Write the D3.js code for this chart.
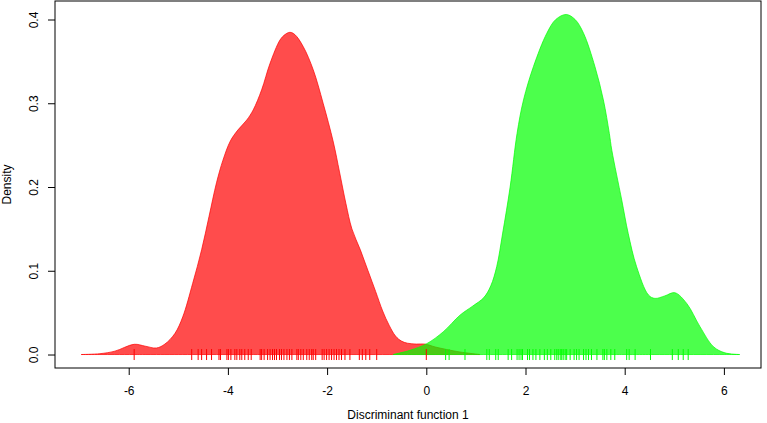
<!DOCTYPE html>
<html>
<head>
<meta charset="utf-8">
<script src="https://cdn.jsdelivr.net/npm/d3@7"></script>
<style>
  body { margin: 0; background: #fff; }
  text { font-family: "Liberation Sans", Arial, Helvetica, sans-serif; }
</style>
</head>
<body>
<div class="container"></div>
<script>
/* Density curve of group 1 (red) */
const redX = [-6.96, -6.58, -6.28, -5.89, -5.67, -5.44, -5.27, -5.07, -4.91, -4.71, -4.53, -4.38, -4.23, -4.10,
              -3.95, -3.80, -3.62, -3.49, -3.32, -3.15, -2.95, -2.85, -2.75, -2.65, -2.48, -2.28, -2.08, -1.875,
              -1.75, -1.62, -1.50, -1.33, -1.175, -1.02, -0.88, -0.75, -0.62, -0.50, -0.38, -0.20, -0.03, 0.18,
              0.41, 0.68, 1.08];
const redY = [0, 0.001, 0.004, 0.0122, 0.010, 0.0078, 0.0125, 0.025, 0.045, 0.085, 0.125, 0.165, 0.205, 0.232,
              0.255, 0.268, 0.28, 0.292, 0.316, 0.3477, 0.3755, 0.382, 0.3847, 0.382, 0.3675, 0.34, 0.30, 0.2537,
              0.218, 0.18, 0.15, 0.125, 0.10, 0.075, 0.052, 0.035, 0.022, 0.016, 0.0135, 0.0125, 0.0125, 0.009,
              0.006, 0.003, 0];

/* Density curve of group 2 (green) */
const greenX = [-0.67, -0.33, 0.01, 0.34, 0.68, 0.94, 1.16, 1.30, 1.42, 1.54, 1.69, 1.83, 1.96, 2.16, 2.43,
                2.61, 2.82, 3.00, 3.17, 3.40, 3.57, 3.69, 3.74, 3.94, 4.07, 4.24, 4.48, 4.61, 4.81, 5.01,
                5.25, 5.52, 5.79, 6.02, 6.32];
const greenY = [0, 0.005, 0.013, 0.027, 0.047, 0.058, 0.068, 0.082, 0.105, 0.145, 0.20, 0.264, 0.304, 0.3437, 0.3836,
                0.400, 0.406, 0.400, 0.3836, 0.3437, 0.304, 0.264, 0.244, 0.1845, 0.1447, 0.1048, 0.071, 0.067, 0.070, 0.0738,
                0.061, 0.033, 0.0093, 0.002, 0];

/* Individual scores (rug) */
const redRug = [-5.89, -4.73, -4.60, -4.53, -4.43, -4.33, -4.18, -4.15, -4.02, -3.99, -3.94, -3.86, -3.82, -3.76,
                -3.72, -3.66, -3.59, -3.53, -3.35, -3.32, -3.27, -3.20, -3.15, -3.10, -3.06, -3.02, -2.96, -2.92,
                -2.87, -2.81, -2.76, -2.71, -2.61, -2.58, -2.53, -2.48, -2.41, -2.36, -2.31, -2.28, -2.23, -2.10,
                -2.06, -2.01, -1.96, -1.91, -1.86, -1.81, -1.76, -1.71, -1.64, -1.54, -1.35, -1.29, -1.22, -1.14,
                -1.00, 0.00];
const greenRug = [0.39, 0.46, 0.78, 1.22, 1.27, 1.40, 1.45, 1.65, 1.72, 1.83, 1.87, 1.91, 1.94, 2.04, 2.08, 2.15,
                  2.21, 2.29, 2.38, 2.44, 2.51, 2.59, 2.63, 2.66, 2.70, 2.73, 2.76, 2.80, 2.83, 2.90, 2.98, 3.03,
                  3.08, 3.17, 3.22, 3.27, 3.33, 3.44, 3.56, 3.59, 3.64, 3.72, 3.80, 4.04, 4.09, 4.21, 4.52, 4.96,
                  5.08, 5.18, 5.28];

const xTicks = [-6, -4, -2, 0, 2, 4, 6];
const yTicks = [0, 0.1, 0.2, 0.3, 0.4];

const w = 767;
const h = 423;

/* Plot region (box) */
const boxL = 55, boxR = 761, boxT = 1, boxB = 368;

const xScale = d3.scaleLinear()
                 .domain([-7.486, 6.748])
                 .range([boxL, boxR]);
const yScale = d3.scaleLinear()
                 .domain([-0.0161, 0.4221])
                 .range([boxB, boxT]);

const svg = d3.select(".container")
              .append("svg")
              .attr("width", w)
              .attr("height", h);

const area = d3.area()
               .x((d) => xScale(d[0]))
               .y0(yScale(0))
               .y1((d) => yScale(d[1]))
               .curve(d3.curveCatmullRom.alpha(0.5));

const groups = [
    { xs: redX, ys: redY, rug: redRug, col: "rgba(255,0,0,0.7)", rugCol: "#ff0000" },
    { xs: greenX, ys: greenY, rug: greenRug, col: "rgba(0,255,0,0.7)", rugCol: "#00ff00" }
];

/* Density polygons */
groups.forEach((g) => {
    svg.append("path")
       .datum(g.xs.map((x, i) => [x, g.ys[i]]))
       .attr("d", (d) => area(d) + "Z")
       .attr("fill", g.col)
       .attr("stroke", g.col)
       .attr("stroke-width", 1);
});

/* Rugs drawn on top */
groups.forEach((g) => {
    svg.selectAll(null)
       .data(g.rug)
       .enter()
       .append("line")
       .attr("x1", (d) => xScale(d))
       .attr("x2", (d) => xScale(d))
       .attr("y1", yScale(0) - 5.5)
       .attr("y2", yScale(0) + 5.5)
       .attr("stroke", g.rugCol)
       .attr("stroke-width", 1);
});

/* Box */
svg.append("rect")
   .attr("x", boxL)
   .attr("y", boxT)
   .attr("width", boxR - boxL)
   .attr("height", boxB - boxT)
   .attr("fill", "none")
   .attr("stroke", "#000")
   .attr("stroke-width", 1);

/* Axes */
const xAxis = d3.axisBottom(xScale).tickValues(xTicks).tickSize(7).tickPadding(11)
                .tickFormat((d) => (d < 0 ? "-" : "") + Math.abs(d));
const yAxis = d3.axisLeft(yScale).tickValues(yTicks).tickSize(7).tickPadding(6)
                .tickFormat(d3.format(".1f"));

const gx = svg.append("g")
              .attr("transform", "translate(0," + boxB + ")")
              .call(xAxis);
gx.select(".domain").remove();
gx.selectAll("text").attr("font-size", 12).attr("fill", "#000").attr("font-family", null);
gx.selectAll("line").attr("stroke", "#000");

const gy = svg.append("g")
              .attr("transform", "translate(" + boxL + ",0)")
              .call(yAxis);
gy.select(".domain").remove();
gy.selectAll("line").attr("stroke", "#000");
gy.selectAll("text")
  .attr("font-size", 12)
  .attr("fill", "#000")
  .attr("font-family", null)
  .attr("text-anchor", "middle")
  .attr("dy", null)
  .attr("x", null)
  .attr("transform", "translate(-21,0) rotate(-90)")
  .attr("dominant-baseline", "central");

/* Axis titles */
svg.append("text")
   .attr("x", (boxL + boxR) / 2)
   .attr("y", 419)
   .attr("text-anchor", "middle")
   .attr("font-size", 12)
   .text("Discriminant function 1");

svg.append("text")
   .attr("transform", "translate(11," + (boxT + boxB) / 2 + ") rotate(-90)")
   .attr("text-anchor", "middle")
   .attr("font-size", 12)
   .text("Density");
</script>
</body>
</html>
